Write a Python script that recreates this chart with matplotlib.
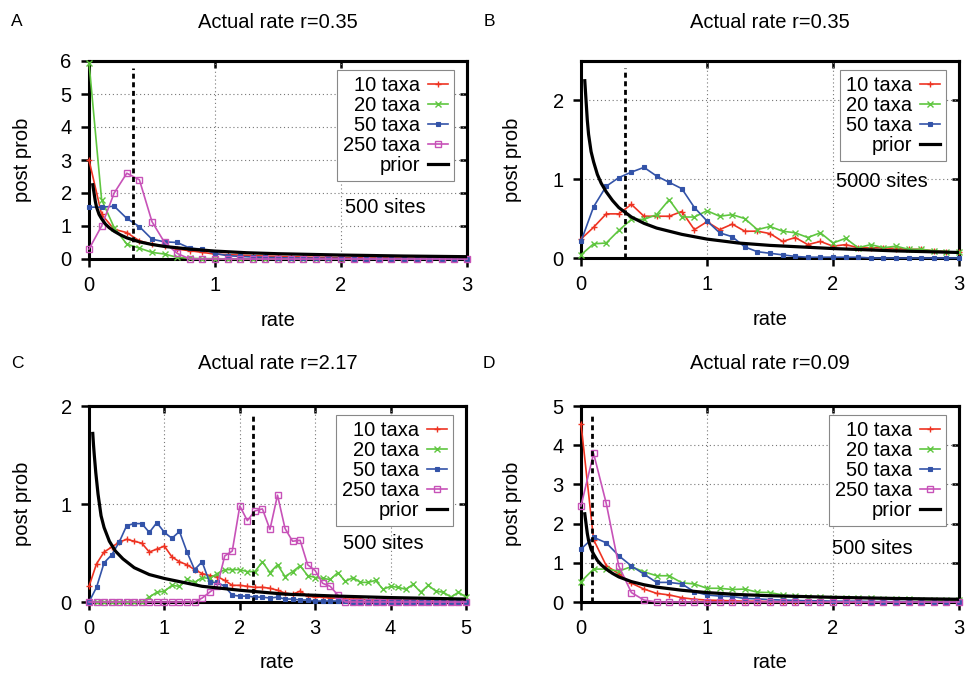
import numpy as np
import matplotlib
matplotlib.use('Agg')
import matplotlib.pyplot as plt

plt.rcParams['font.family'] = ['Liberation Sans', 'DejaVu Sans']
plt.rcParams['font.size'] = 14.5

# rate bins
x3 = np.linspace(0, 3, 31)
x5 = np.linspace(0, 5, 51)

# panel A : r=0.35, 500 sites
a_10 = [3.0, 1.35, 0.9, 0.8, 0.55, 0.45, 0.4, 0.3, 0.25, 0.2, 0.15, 0.13, 0.12, 0.1, 0.09, 0.08,
        0.07, 0.06, 0.05, 0.05, 0.04, 0.04, 0.03, 0.03, 0.03, 0.02, 0.02, 0.02, 0.02, 0.01, 0.01]
a_20 = [5.95, 1.8, 0.95, 0.45, 0.33, 0.2, 0.15, 0.05, 0.02, 0.01, 0.01, 0, 0, 0, 0, 0,
        0, 0, 0, 0, 0, 0, 0, 0, 0, 0, 0, 0, 0, 0, 0]
a_50 = [1.57, 1.57, 1.6, 1.23, 0.98, 0.6, 0.52, 0.5, 0.33, 0.3, 0.17, 0.1, 0.08, 0.06, 0.05, 0.04,
        0.03, 0.03, 0.02, 0.02, 0.02, 0.01, 0.01, 0.01, 0.01, 0, 0, 0, 0, 0, 0]
a_250 = [0.3, 1.0, 2.0, 2.6, 2.4, 1.13, 0.5, 0.17, 0, 0, 0, 0, 0, 0, 0, 0,
         0, 0, 0, 0, 0, 0, 0, 0, 0, 0, 0, 0, 0, 0, 0]

# panel B : r=0.35, 5000 sites
b_10 = [0.24, 0.39, 0.56, 0.56, 0.68, 0.53, 0.53, 0.53, 0.59, 0.36, 0.46, 0.36, 0.43, 0.34, 0.34, 0.31,
        0.21, 0.26, 0.17, 0.21, 0.15, 0.17, 0.13, 0.13, 0.13, 0.12, 0.11, 0.11, 0.09, 0.08, 0.07]
b_20 = [0.04, 0.18, 0.19, 0.35, 0.49, 0.49, 0.55, 0.74, 0.52, 0.52, 0.6, 0.53, 0.55, 0.5, 0.36, 0.4,
        0.34, 0.32, 0.26, 0.32, 0.19, 0.25, 0.13, 0.17, 0.13, 0.15, 0.11, 0.11, 0.09, 0.08, 0.07]
b_50 = [0.21, 0.65, 0.91, 1.02, 1.09, 1.15, 1.04, 0.96, 0.88, 0.64, 0.47, 0.32, 0.27, 0.14, 0.08, 0.06,
        0.04, 0.02, 0.01, 0.01, 0.01, 0.01, 0.01, 0, 0, 0, 0, 0, 0, 0, 0]

# panel C : r=2.17, 500 sites
c_10 = [0.16, 0.39, 0.51, 0.56, 0.61, 0.64, 0.62, 0.6, 0.51, 0.54, 0.57, 0.46, 0.41, 0.38, 0.33, 0.29,
        0.27, 0.26, 0.22, 0.17, 0.17, 0.16, 0.15, 0.15, 0.14, 0.12, 0.09, 0.08, 0.11, 0.06, 0.05,
        0.05, 0.04, 0.04, 0.03, 0.03, 0.03, 0.02, 0.02, 0.02, 0.02, 0.01, 0.01, 0.01, 0.01, 0.01,
        0.01, 0.01, 0, 0, 0]
c_20 = [0, 0, 0, 0, 0, 0, 0, 0, 0.05, 0.1, 0.11, 0.17, 0.16, 0.23, 0.2, 0.25, 0.24, 0.29, 0.33, 0.33,
        0.33, 0.31, 0.31, 0.41, 0.3, 0.38, 0.26, 0.31, 0.37, 0.27, 0.25, 0.24, 0.23, 0.3, 0.21, 0.25,
        0.2, 0.2, 0.22, 0.13, 0.16, 0.15, 0.13, 0.18, 0.1, 0.17, 0.11, 0.1, 0.05, 0.1, 0.05]
c_50 = [0, 0.15, 0.4, 0.48, 0.61, 0.78, 0.8, 0.8, 0.71, 0.81, 0.71, 0.65, 0.72, 0.51, 0.33, 0.41,
        0.2, 0.2, 0.16, 0.07, 0.06, 0.06, 0.05, 0.05, 0.04, 0.05, 0.03, 0.03, 0.02, 0.02, 0.01,
        0.01, 0.01, 0.01, 0.01, 0, 0, 0, 0, 0, 0, 0, 0, 0, 0, 0, 0, 0, 0, 0, 0]
c_250 = [0, 0, 0, 0, 0, 0, 0, 0, 0, 0, 0, 0, 0, 0, 0, 0.04, 0.1, 0.16, 0.47, 0.52, 0.98, 0.83,
         0.93, 0.95, 0.74, 1.09, 0.75, 0.62, 0.63, 0.38, 0.32, 0.19, 0.16, 0.07, 0, 0, 0, 0, 0,
         0, 0, 0, 0, 0, 0, 0, 0, 0, 0, 0, 0]

# panel D : r=0.09, 500 sites
d_10 = [4.55, 1.59, 0.93, 0.72, 0.48, 0.33, 0.22, 0.18, 0.11, 0.07, 0.05, 0.04, 0.03, 0.02, 0.02, 0.01,
        0.01, 0.01, 0.01, 0, 0, 0, 0, 0, 0, 0, 0, 0, 0, 0, 0]
d_20 = [0.52, 0.84, 0.84, 0.79, 0.9, 0.77, 0.67, 0.67, 0.49, 0.46, 0.35, 0.35, 0.32, 0.33, 0.25, 0.24,
        0.18, 0.15, 0.14, 0.12, 0.11, 0.1, 0.1, 0.09, 0.08, 0.07, 0.07, 0.06, 0.05, 0.05, 0.04]
d_50 = [1.35, 1.65, 1.51, 1.18, 0.92, 0.71, 0.5, 0.5, 0.46, 0.26, 0.18, 0.15, 0.14, 0.09, 0.08, 0.06,
        0.05, 0.04, 0.03, 0.03, 0.02, 0.02, 0.02, 0.01, 0.01, 0.01, 0.01, 0, 0, 0, 0]
d_250 = [2.45, 3.79, 2.52, 0.92, 0.24, 0.05, 0, 0, 0, 0, 0, 0, 0, 0, 0, 0,
         0, 0, 0, 0, 0, 0, 0, 0, 0, 0, 0, 0, 0, 0, 0]

# prior curves
prior_x = [0.03, 0.04, 0.05, 0.06, 0.08, 0.1, 0.13, 0.16, 0.2, 0.25, 0.3, 0.4, 0.5, 0.6, 0.8, 1.0,
           1.25, 1.5, 2.0, 2.5, 3.0]
prior_y = [2.25, 2.0, 1.75, 1.57, 1.35, 1.22, 1.06, 0.95, 0.84, 0.73, 0.64, 0.52, 0.44, 0.38, 0.3, 0.24,
           0.19, 0.16, 0.12, 0.09, 0.07]
prior_c_x = [0.05, 0.06, 0.07, 0.09, 0.12, 0.16, 0.2, 0.27, 0.35, 0.45, 0.6, 0.8, 1.0, 1.5, 2.0, 2.6,
             3.3, 4.0, 5.0]
prior_c_y = [1.72, 1.6, 1.5, 1.32, 1.1, 0.88, 0.76, 0.62, 0.52, 0.44, 0.35, 0.28, 0.24, 0.16, 0.12, 0.08,
             0.06, 0.045, 0.03]

W, H = 967, 675
fig = plt.figure(figsize=(W / 100, H / 100), dpi=100)

styles = {
    '10 taxa': dict(color='#ee3322', marker='+', ms=5, mew=1.0),
    '20 taxa': dict(color='#5fc63f', marker='x', ms=4, mew=1.0),
    '50 taxa': dict(color='#3353a8', marker='s', ms=3.2, mew=0.8),
    '250 taxa': dict(color='#c752b8', marker='s', ms=4.2, mew=1.0, mfc='none'),
}


def fx(p):
    return p / W


def fy(p):
    return 1 - p / H


def panel(left, top, right, bottom, x, series, px_, py_, actual, xmax, ymax,
          xticks, yticks, title, letter, sites, sites_pos):
    ax = fig.add_axes([fx(left), fy(bottom), fx(right - left), (bottom - top) / H])
    for name, vals in series:
        ax.plot(x, vals, label=name, lw=1.2, clip_on=False, zorder=3, **styles[name])
    ax.plot(px_, py_, color='black', lw=2.3, label='prior', zorder=4)
    ax.axvline(actual, ymax=0.965, color='black', lw=2.0, linestyle=(0, (1.8, 1.3)), zorder=4)
    ax.set_xlim(0, xmax)
    ax.set_ylim(0, ymax)
    ax.set_xticks(xticks)
    ax.set_yticks(yticks)
    ax.grid(True, color='#777777', linestyle=(0, (1, 2.5)), linewidth=0.8)
    for sp in ax.spines.values():
        sp.set_linewidth(2.2)
    ax.tick_params(direction='out', length=5.5, width=1.8, pad=7)
    sec = ax.secondary_xaxis('top')
    sec.set_xticks(xticks)
    sec.tick_params(direction='in', length=5, width=1.8, labeltop=False)
    sec.spines['top'].set_linewidth(2.2)
    secy = ax.secondary_yaxis('right')
    secy.set_yticks(yticks)
    secy.tick_params(direction='in', length=5, width=1.8, labelright=False)
    secy.spines['right'].set_linewidth(2.2)

    leg = ax.legend(loc='upper right', bbox_to_anchor=(0.966, 0.955), markerfirst=False,
                    fancybox=False, edgecolor='#888888', framealpha=1, borderpad=0.3,
                    labelspacing=0.05, handlelength=1.0, handletextpad=0.4, borderaxespad=0)
    leg.get_frame().set_linewidth(0.8)
    leg.set_zorder(6)
    ax.text(sites_pos[0], sites_pos[1], sites, transform=ax.transAxes, ha='center', va='center')

    cx = (left + right) / 2
    fig.text(fx(cx), fy(22 if top < 200 else 364), title, ha='center', va='center')
    fig.text(fx(17 if left < 300 else 489), fy(22 if top < 200 else 364), letter,
             ha='center', va='center', fontsize=12.5)
    fig.text(fx(cx), fy(bottom + 61), 'rate', ha='center', va='center')
    fig.text(fx(22 if left < 300 else 513), fy((top + bottom) / 2), 'post prob',
             ha='center', va='center', rotation=90)
    return ax


panel(89, 61, 467, 259, x3,
      [('10 taxa', a_10), ('20 taxa', a_20), ('50 taxa', a_50), ('250 taxa', a_250)],
      prior_x, prior_y, 0.35, 3, 6, [0, 1, 2, 3], [0, 1, 2, 3, 4, 5, 6],
      'Actual rate r=0.35', 'A', '500 sites', (0.783, 0.258))
panel(581, 61, 959, 258, x3,
      [('10 taxa', b_10), ('20 taxa', b_20), ('50 taxa', b_50)],
      prior_x, prior_y, 0.35, 3, 2.5, [0, 1, 2, 3], [0, 1, 2],
      'Actual rate r=0.35', 'B', '5000 sites', (0.796, 0.39))
panel(89, 406, 466, 602, x5,
      [('10 taxa', c_10), ('20 taxa', c_20), ('50 taxa', c_50), ('250 taxa', c_250)],
      prior_c_x, prior_c_y, 2.17, 5, 2, [0, 1, 2, 3, 4, 5], [0, 1, 2],
      'Actual rate r=2.17', 'C', '500 sites', (0.78, 0.296))
panel(581, 406, 959, 602, x3,
      [('10 taxa', d_10), ('20 taxa', d_20), ('50 taxa', d_50), ('250 taxa', d_250)],
      prior_x, prior_y, 0.09, 3, 5, [0, 1, 2, 3], [0, 1, 2, 3, 4, 5],
      'Actual rate r=0.09', 'D', '500 sites', (0.77, 0.275))

fig.savefig('out.png', dpi=100)
